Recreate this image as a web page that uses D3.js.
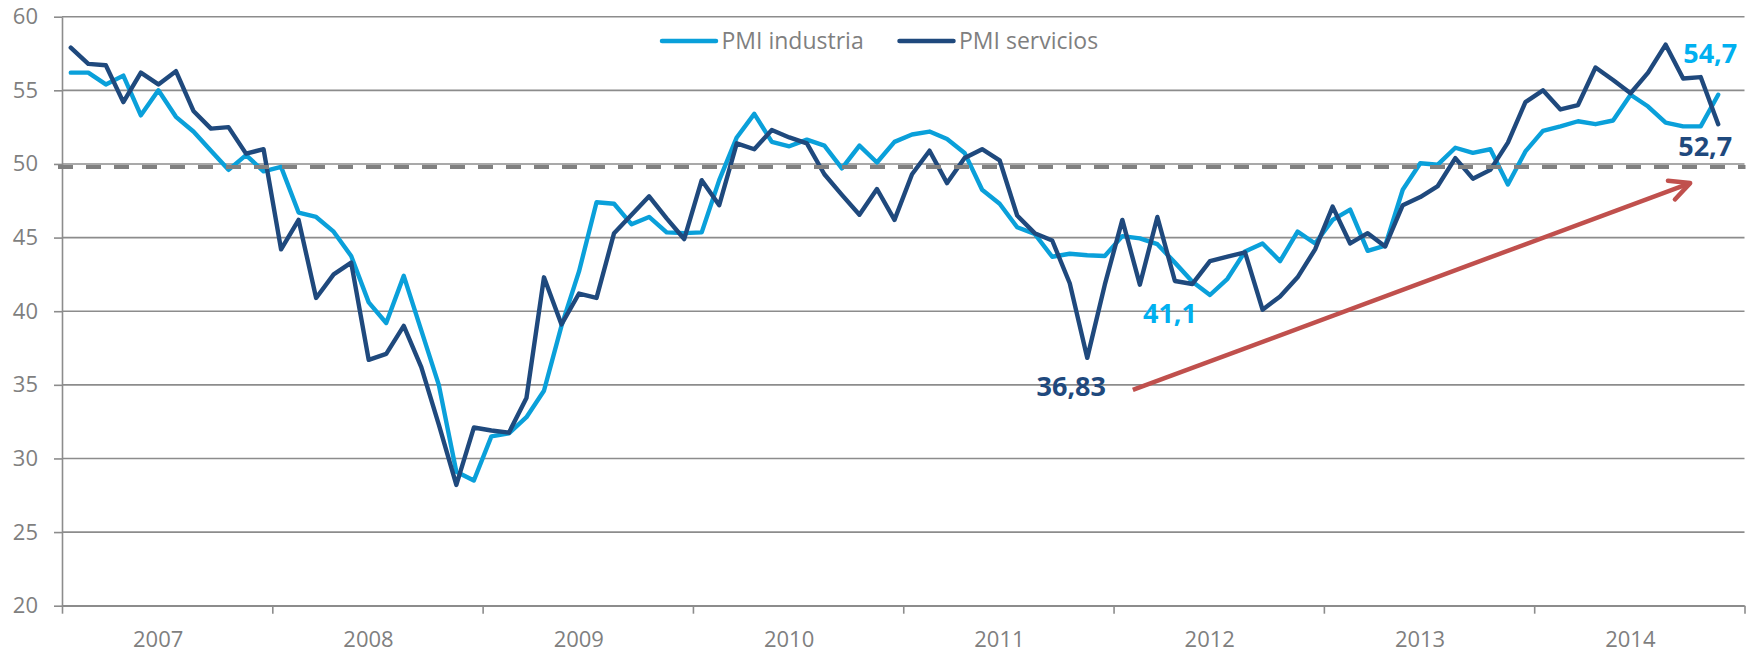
<!DOCTYPE html>
<html>
<head>
<meta charset="utf-8">
<script src="https://cdn.jsdelivr.net/npm/d3@7"></script>
<style>
  body { margin: 0; background: #fff; }
  svg { display: block; font-family: "Open Sans", sans-serif; }
</style>
</head>
<body>
<svg id="chart" width="1752" height="652"></svg>
<script>
// categories: monthly, Jan 2007 - Dec 2014 (last month has no data)
const years = ["2007", "2008", "2009", "2010", "2011", "2012", "2013", "2014"];
const yTicks = [20, 25, 30, 35, 40, 45, 50, 55, 60];

const pmiIndustria = [
  56.2, 56.2, 55.4, 56.0, 53.3, 55.0, 53.2, 52.2, 50.9, 49.6, 50.6, 49.5,
  49.8, 46.7, 46.4, 45.4, 43.75, 40.6, 39.2, 42.4, 38.7, 35.0, 29.1, 28.5,
  31.5, 31.7, 32.8, 34.6, 39.0, 42.7, 47.4, 47.3, 45.9, 46.4, 45.35, 45.3,
  45.35, 48.9, 51.8, 53.4, 51.5, 51.2, 51.65, 51.25, 49.7, 51.25, 50.1, 51.5,
  52.0, 52.2, 51.7, 50.75, 48.25, 47.3, 45.7, 45.25, 43.7, 43.9, 43.8, 43.75,
  45.1, 44.95, 44.55, 43.3, 42.0, 41.1, 42.2, 44.05, 44.6, 43.4, 45.4, 44.6,
  46.2, 46.9, 44.1, 44.45, 48.25, 50.05, 49.95, 51.1, 50.75, 51.0, 48.6, 50.85,
  52.25, 52.55, 52.9, 52.7, 52.95, 54.7, 53.9, 52.8, 52.55, 52.55, 54.7
];
const pmiServicios = [
  57.9, 56.8, 56.7, 54.2, 56.2, 55.4, 56.3, 53.6, 52.4, 52.5, 50.7, 51.0,
  44.2, 46.2, 40.9, 42.5, 43.3, 36.7, 37.1, 39.0, 36.2, 32.3, 28.2, 32.1,
  31.9, 31.75, 34.1, 42.3, 39.1, 41.2, 40.9, 45.3, 46.55, 47.8, 46.3, 44.9,
  48.9, 47.2, 51.4, 51.0, 52.3, 51.8, 51.4, 49.3, 47.9, 46.55, 48.3, 46.2,
  49.3, 50.9, 48.7, 50.4, 51.0, 50.25, 46.5, 45.3, 44.8, 41.9, 36.83, 41.8,
  46.2, 41.8, 46.4, 42.05, 41.85, 43.4, 43.7, 44.0, 40.1, 41.0, 42.3, 44.2,
  47.1, 44.6, 45.3, 44.4, 47.2, 47.75, 48.5, 50.4, 49.0, 49.6, 51.45, 54.2,
  55.0, 53.7, 54.0, 56.55, 55.7, 54.8, 56.2, 58.1, 55.8, 55.9, 52.7
];
const threshold = 49.8;

// value callouts: [text, series, month index, dx, dy]
const callouts = [
  ["54,7", "industria", 94, -8, -32],
  ["52,7", "servicios", 94, -13, 32],
  ["41,1", "industria", 65, -40, 27.5],
  ["36,83", "servicios", 58, -16, 38.6]
];
// trend arrow, in month index / value space
const trendArrow = [[60.6, 34.65], [92.4, 48.7]];

const colors = { industria: "#0aa0da", servicios: "#1f497d" };
const labelColors = { industria: "#00b0f0", servicios: "#1f497d" };
const gridColor = "#8c8c8c";
const textColor = "#7f7f7f";

const svg = d3.select("#chart");
const plotLeft = 62, plotRight = 1744.5, plotTop = 16.7, plotBottom = 605.7;
const nMonths = years.length * 12;

const x = d3.scaleLinear().domain([-0.5, nMonths - 0.5]).range([plotLeft, plotRight]);
const y = d3.scaleLinear().domain([20, 60]).range([plotBottom, plotTop]);

// gridlines
svg.append("g")
  .selectAll("line")
  .data(yTicks)
  .join("line")
    .attr("x1", plotLeft).attr("x2", plotRight)
    .attr("y1", d => y(d)).attr("y2", d => y(d))
    .attr("stroke", gridColor)
    .attr("stroke-width", 1.6);

// y axis
const yAxis = svg.append("g")
  .attr("transform", `translate(${plotLeft},0)`)
  .call(d3.axisLeft(y).tickValues(yTicks).tickSize(8).tickSizeOuter(0).tickPadding(16));
yAxis.select(".domain").attr("stroke", gridColor).attr("stroke-width", 1.6);
yAxis.selectAll(".tick line").attr("stroke", gridColor).attr("stroke-width", 1.6);
yAxis.selectAll(".tick text")
  .attr("fill", textColor)
  .style("font-size", "22px")
  .style("font-family", "Open Sans");

// x axis: year boundaries
const xb = d3.scaleLinear().domain([0, years.length]).range([plotLeft, plotRight]);
const xTicks = svg.append("g")
  .attr("transform", `translate(0,${plotBottom})`)
  .call(d3.axisBottom(xb).tickValues(d3.range(years.length + 1)).tickSize(8).tickSizeOuter(0).tickFormat(""));
xTicks.select(".domain").attr("stroke", gridColor).attr("stroke-width", 1.6);
xTicks.selectAll(".tick line").attr("stroke", gridColor).attr("stroke-width", 1.6);

// x axis: year labels
const xYear = d3.scaleBand().domain(years).range([plotLeft, plotRight]);
const xLabels = svg.append("g")
  .attr("transform", `translate(-9,${plotBottom})`)
  .call(d3.axisBottom(xYear).tickSize(0));
xLabels.select(".domain").remove();
xLabels.selectAll(".tick text")
  .attr("y", 41)
  .attr("dy", 0)
  .attr("fill", textColor)
  .style("font-size", "22px")
  .style("font-family", "Open Sans");

// series
const line = d3.line()
  .x((d, i) => x(i))
  .y(d => y(d));

const series = [
  { key: "industria", values: pmiIndustria },
  { key: "servicios", values: pmiServicios }
];

svg.append("g")
  .selectAll("path")
  .data(series)
  .join("path")
    .attr("d", d => line(d.values))
    .attr("fill", "none")
    .attr("stroke", d => colors[d.key])
    .attr("stroke-width", 4.4)
    .attr("stroke-linejoin", "round")
    .attr("stroke-linecap", "round");

// 50 line
svg.append("line")
  .attr("x1", plotLeft - 4).attr("x2", plotRight + 1)
  .attr("y1", y(threshold)).attr("y2", y(threshold))
  .attr("stroke", "#808080")
  .attr("stroke-width", 4)
  .attr("stroke-dasharray", "15 13");

// trend arrow
const arrowColor = "#c0504d";
svg.append("defs").append("marker")
  .attr("id", "arrowhead")
  .attr("markerUnits", "userSpaceOnUse")
  .attr("viewBox", "-26 -14 30 28")
  .attr("markerWidth", 30)
  .attr("markerHeight", 28)
  .attr("refX", 0).attr("refY", 0)
  .attr("orient", "auto")
  .append("path")
    .attr("d", "M-20,-10L0,0L-20,10")
    .attr("fill", "none")
    .attr("stroke", arrowColor)
    .attr("stroke-width", 4.5)
    .attr("stroke-linecap", "round")
    .attr("stroke-linejoin", "round");

svg.append("line")
  .attr("x1", x(trendArrow[0][0])).attr("y1", y(trendArrow[0][1]))
  .attr("x2", x(trendArrow[1][0])).attr("y2", y(trendArrow[1][1]))
  .attr("stroke", arrowColor)
  .attr("stroke-width", 4.5)
  .attr("marker-end", "url(#arrowhead)");

// callouts
const seriesValues = { industria: pmiIndustria, servicios: pmiServicios };
svg.append("g")
  .selectAll("text")
  .data(callouts)
  .join("text")
    .attr("x", d => x(d[2]) + d[3])
    .attr("y", d => y(seriesValues[d[1]][d[2]]) + d[4])
    .attr("text-anchor", "middle")
    .attr("fill", d => labelColors[d[1]])
    .style("font-size", "27px")
    .style("font-weight", "bold")
    .text(d => d[0]);

// legend
const legendItems = [
  { key: "industria", label: "PMI industria", x: 662 },
  { key: "servicios", label: "PMI servicios", x: 899.5 }
];
const legend = svg.append("g");
legend.selectAll("line")
  .data(legendItems)
  .join("line")
    .attr("x1", d => d.x).attr("x2", d => d.x + 54)
    .attr("y1", 41).attr("y2", 41)
    .attr("stroke", d => colors[d.key])
    .attr("stroke-width", 4.5)
    .attr("stroke-linecap", "round");
legend.selectAll("text")
  .data(legendItems)
  .join("text")
    .attr("x", d => d.x + 59.5)
    .attr("y", 49.3)
    .attr("fill", textColor)
    .style("font-size", "23px")
    .text(d => d.label);
</script>
</body>
</html>
